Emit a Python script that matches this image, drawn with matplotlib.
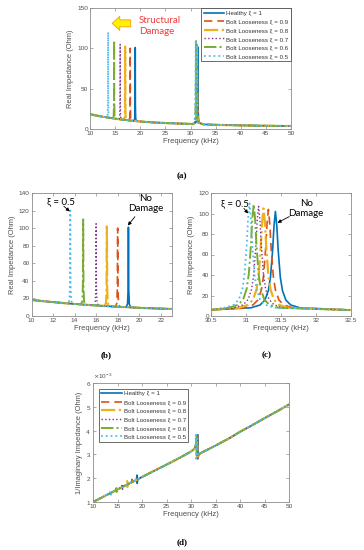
import numpy as np
import matplotlib
matplotlib.use("Agg")
import matplotlib.pyplot as plt
from matplotlib.ticker import ScalarFormatter

plt.rcParams['font.family'] = ['Liberation Sans', 'DejaVu Sans']

# ---- series ----
labels = ["Healthy ξ = 1", "Bolt Looseness ξ = 0.9", "Bolt Looseness ξ = 0.8",
          "Bolt Looseness ξ = 0.7", "Bolt Looseness ξ = 0.6", "Bolt Looseness ξ = 0.5"]
colors = ["#0072BD", "#D95319", "#EDB120", "#7E2F8E", "#77AC30", "#4DBEEE"]
styles = ["-", (0, (5, 3)), "-.", ":", "-.", ":"]
widths = [1.2, 1.2, 1.6, 1.0, 1.4, 1.3]

# ---- real impedance: shared baseline (kHz, Ohm) ----
base_f = [10, 11, 12, 13, 14, 15, 16, 17, 18, 19, 20, 21, 22, 23, 25, 27, 29, 30,
          34, 36, 40, 45, 50]
base_v = [18.3, 17.0, 15.8, 14.7, 13.7, 12.8, 12.0, 11.2, 10.5, 9.9, 9.3, 8.8, 8.4, 8.0,
          7.4, 6.9, 6.5, 6.3, 5.4, 5.0, 4.5, 4.0, 3.7]

# first resonance (narrow peaks), one list per series
p1_f = [
    [18.8, 18.92, 18.97, 19.0, 19.03, 19.08, 19.2],
    [17.8, 17.92, 17.97, 18.0, 18.03, 18.08, 18.2],
    [16.8, 16.92, 16.97, 17.0, 17.03, 17.08, 17.2],
    [15.8, 15.92, 15.97, 16.0, 16.03, 16.08, 16.2],
    [14.6, 14.72, 14.77, 14.8, 14.83, 14.88, 15.0],
    [13.4, 13.52, 13.57, 13.6, 13.63, 13.68, 13.8],
]
p1_v = [
    [10.2, 14.0, 30, 101, 30, 13.6, 9.9],
    [10.8, 14.5, 30, 100, 30, 14.2, 10.4],
    [11.5, 15.0, 31, 102, 31, 15.0, 11.1],
    [12.3, 16.0, 32, 105, 32, 15.8, 11.9],
    [13.3, 17.0, 34, 110, 34, 16.8, 12.8],
    [14.4, 18.0, 36, 120, 36, 17.8, 13.9],
]

# second resonance (30.5 - 32.5 kHz)
p2_f = [
    [30.5, 31.07, 31.20, 31.27, 31.32, 31.35, 31.38, 31.40, 31.42, 31.44, 31.46, 31.49, 31.52, 31.57, 31.64, 31.77, 32.5],
    [30.5, 30.97, 31.10, 31.17, 31.22, 31.25, 31.28, 31.30, 31.32, 31.34, 31.36, 31.39, 31.42, 31.47, 31.54, 31.67, 32.5],
    [30.5, 30.90, 31.03, 31.10, 31.15, 31.18, 31.21, 31.23, 31.25, 31.27, 31.29, 31.32, 31.35, 31.40, 31.47, 31.60, 32.5],
    [30.5, 30.83, 30.96, 31.03, 31.08, 31.11, 31.14, 31.16, 31.18, 31.20, 31.22, 31.25, 31.28, 31.33, 31.40, 31.53, 32.5],
    [30.5, 30.76, 30.89, 30.96, 31.01, 31.04, 31.07, 31.09, 31.11, 31.13, 31.15, 31.18, 31.21, 31.26, 31.33, 31.46, 32.5],
    [30.5, 30.70, 30.83, 30.90, 30.95, 30.98, 31.01, 31.03, 31.05, 31.07, 31.09, 31.12, 31.15, 31.20, 31.27, 31.40, 32.5],
]
p2_v = [
    [6.0, 8.0, 10.7, 15.5, 25.0, 38.0, 64.0, 88.0, 102, 88.0, 64.0, 38.0, 25.0, 15.5, 10.7, 8.0, 5.8],
    [6.0, 7.9, 10.8, 15.7, 25.4, 38.8, 65.2, 89.6, 104, 89.6, 65.2, 38.8, 25.4, 15.7, 10.8, 7.9, 5.8],
    [6.0, 8.0, 10.9, 15.9, 25.8, 39.5, 66.4, 91.3, 105, 91.3, 66.4, 39.5, 25.8, 15.9, 10.9, 8.0, 5.8],
    [6.0, 8.0, 10.9, 16.1, 26.2, 40.1, 67.6, 93.1, 107, 93.1, 67.6, 40.1, 26.2, 16.1, 10.9, 8.0, 5.8],
    [6.0, 8.1, 11.0, 16.3, 26.6, 40.8, 68.8, 94.8, 109, 94.8, 68.8, 40.8, 26.6, 16.3, 11.0, 8.1, 5.8],
    [6.0, 8.1, 11.1, 16.4, 26.8, 41.2, 69.4, 95.6, 110, 95.6, 69.4, 41.2, 26.8, 16.4, 11.1, 8.1, 5.8],
]

# ---- 1/imaginary impedance (x1e-3) ----
inv_base_f = [10, 12, 14, 16, 18, 20, 22, 25, 28, 30, 30.6, 31.8, 32.3, 33, 35, 38, 40, 42, 45, 48, 50]
inv_base_v = [1.00, 1.21, 1.42, 1.63, 1.84, 2.05, 2.26, 2.57, 2.89, 3.12, 3.22, 3.03, 3.09, 3.16,
              3.37, 3.70, 3.95, 4.17, 4.52, 4.86, 5.10]
inv1_f = [
    [18.85, 18.98, 19.02, 19.15],
    [17.85, 17.98, 18.02, 18.15],
    [16.85, 16.98, 17.02, 17.15],
    [15.85, 15.98, 16.02, 16.15],
    [14.65, 14.78, 14.82, 14.95],
    [13.45, 13.58, 13.62, 13.75],
]
inv1_v = [
    [1.93, 2.13, 1.78, 1.95],
    [1.83, 1.95, 1.75, 1.85],
    [1.73, 1.88, 1.63, 1.75],
    [1.62, 1.75, 1.53, 1.64],
    [1.49, 1.59, 1.42, 1.51],
    [1.37, 1.46, 1.30, 1.39],
]
inv2_f = [
    [31.07, 31.32, 31.40, 31.42, 31.43, 31.48, 31.62],
    [30.97, 31.22, 31.30, 31.32, 31.33, 31.38, 31.52],
    [30.90, 31.15, 31.23, 31.25, 31.26, 31.31, 31.45],
    [30.83, 31.08, 31.16, 31.18, 31.19, 31.24, 31.38],
    [30.76, 31.01, 31.09, 31.11, 31.12, 31.17, 31.31],
    [30.70, 30.95, 31.03, 31.05, 31.06, 31.11, 31.25],
]
inv2_v = [3.30, 3.42, 3.60, 3.82, 2.82, 2.90, 2.98]


def merge(bf, bv, parts):
    # baseline points that fall inside a resonance window are dropped
    f = []
    v = []
    for x, y in zip(bf, bv):
        if not any(min(pf) <= x <= max(pf) for pf, _ in parts):
            f.append(x)
            v.append(y)
    for pf, pv in parts:
        f += list(pf)
        v += list(pv)
    order = np.argsort(f)
    return np.array(f)[order], np.array(v)[order]


grey = "#4d4d4d"
tick_fs = 4.6
label_fs = 5.4
note_font = ['Lato', 'DejaVu Sans']


def style_axes(ax):
    for s in ax.spines.values():
        s.set_color("#8c8c8c")
        s.set_linewidth(0.6)
    ax.tick_params(direction="in", length=2, width=0.5, colors="#8c8c8c",
                   labelcolor=grey, labelsize=tick_fs, pad=1.5, top=True, right=True)
    ax.set_xlabel("Frequency (kHz)", fontsize=label_fs, color=grey, labelpad=1.5)


def style_legend(leg):
    leg.get_frame().set_edgecolor("#333333")
    leg.get_frame().set_linewidth(0.5)
    for t in leg.get_texts():
        t.set_color("#333333")


fig = plt.figure(figsize=(3.64, 5.5), dpi=100)
ax_a = fig.add_axes([90 / 364, 1 - 129 / 550, 201 / 364, 121 / 550])
ax_b = fig.add_axes([31.5 / 364, 1 - 316 / 550, 140 / 364, 123 / 550])
ax_c = fig.add_axes([211 / 364, 1 - 316 / 550, 140 / 364, 123 / 550])
ax_d = fig.add_axes([93 / 364, 1 - 502 / 550, 196 / 364, 119 / 550])

for i in range(6):
    f, v = merge(base_f, base_v, [(p1_f[i], p1_v[i]), (p2_f[i], p2_v[i])])
    for ax in (ax_a, ax_b, ax_c):
        ax.plot(f, v, color=colors[i], ls=styles[i], lw=widths[i], label=labels[i])
    fi, vi = merge(inv_base_f, inv_base_v, [(inv1_f[i], inv1_v[i]), (inv2_f[i], inv2_v)])
    ax_d.plot(fi, vi * 1e-3, color=colors[i], ls=styles[i], lw=widths[i], label=labels[i])

leg_kw = dict(fontsize=4.4, handlelength=3.4, labelspacing=0.55, handletextpad=0.3,
              borderpad=0.4, fancybox=False, framealpha=1)

# (a)
ax_a.set_xlim(10, 50)
ax_a.set_ylim(0, 150)
ax_a.set_xticks(np.arange(10, 51, 5))
ax_a.set_yticks([0, 50, 100, 150])
ax_a.set_ylabel("Real Impedance (Ohm)", fontsize=label_fs, color=grey, labelpad=2)
style_axes(ax_a)
style_legend(ax_a.legend(loc="upper right", borderaxespad=0, **leg_kw))
ax_a.annotate("", xy=(14.4, 131), xytext=(18.1, 131),
              arrowprops=dict(arrowstyle="simple,head_length=0.55,head_width=1.0,tail_width=0.5",
                              fc="#FFF200", ec="#F39C12", lw=0.6, mutation_scale=10,
                              shrinkA=0, shrinkB=0))
ax_a.text(19.7, 128, "Structural\nDamage", color="#EE3B3B", fontsize=7, va="center",
          ha="left", linespacing=1.25, family=note_font)

# (b)
ax_b.set_xlim(10, 23)
ax_b.set_ylim(0, 140)
ax_b.set_xticks(np.arange(10, 23, 2))
ax_b.set_yticks(np.arange(0, 141, 20))
ax_b.set_ylabel("Real Impedance (Ohm)", fontsize=label_fs, color=grey, labelpad=2)
style_axes(ax_b)
ax_b.text(12.7, 130, "ξ = 0.5", fontsize=7, ha="center", va="center", family=note_font)
ax_b.annotate("", xy=(13.55, 119), xytext=(13.0, 125),
              arrowprops=dict(arrowstyle="-|>", color="black", lw=0.6, mutation_scale=5,
                              shrinkA=0, shrinkB=0))
ax_b.text(20.6, 128, "No\nDamage", fontsize=7, ha="center", va="center", linespacing=1.15,
          family=note_font)
ax_b.annotate("", xy=(18.95, 103), xytext=(19.6, 113),
              arrowprops=dict(arrowstyle="-|>", color="black", lw=0.6, mutation_scale=5,
                              shrinkA=0, shrinkB=0))

# (c)
ax_c.set_xlim(30.5, 32.5)
ax_c.set_ylim(0, 120)
ax_c.set_xticks([30.5, 31, 31.5, 32, 32.5])
ax_c.set_xticklabels(["30.5", "31", "31.5", "32", "32.5"])
ax_c.set_yticks(np.arange(0, 121, 20))
ax_c.set_ylabel("Real Impedance (Ohm)", fontsize=label_fs, color=grey, labelpad=2)
style_axes(ax_c)
ax_c.text(30.84, 110, "ξ = 0.5", fontsize=7, ha="center", va="center", family=note_font)
ax_c.annotate("", xy=(31.03, 100), xytext=(30.97, 105),
              arrowprops=dict(arrowstyle="-|>", color="black", lw=0.6, mutation_scale=5,
                              shrinkA=0, shrinkB=0))
ax_c.text(31.86, 105, "No\nDamage", fontsize=7, ha="center", va="center", linespacing=1.15,
          family=note_font)
ax_c.annotate("", xy=(31.45, 91), xytext=(31.62, 97),
              arrowprops=dict(arrowstyle="-|>", color="black", lw=0.6, mutation_scale=5,
                              shrinkA=0, shrinkB=0))

# (d)
ax_d.set_xlim(10, 50)
ax_d.set_ylim(1e-3, 6e-3)
ax_d.set_xticks(np.arange(10, 51, 5))
ax_d.set_yticks(np.arange(1, 7) * 1e-3)
fmt = ScalarFormatter(useMathText=True)
fmt.set_powerlimits((-2, 2))
ax_d.yaxis.set_major_formatter(fmt)
ax_d.yaxis.get_offset_text().set_fontsize(4.6)
ax_d.yaxis.get_offset_text().set_color(grey)
ax_d.set_ylabel("1/Imaginary Impedance (Ohm)", fontsize=label_fs, color=grey, labelpad=2)
style_axes(ax_d)
style_legend(ax_d.legend(loc="upper left", borderaxespad=0.9, **leg_kw))

# captions
cap = dict(fontsize=6.5, fontweight="bold", family="Liberation Serif", ha="center", va="center")
fig.text(182 / 364, 1 - 176 / 550, "(a)", **cap)
fig.text(106 / 364, 1 - 355 / 550, "(b)", **cap)
fig.text(267 / 364, 1 - 355 / 550, "(c)", **cap)
fig.text(182 / 364, 1 - 542 / 550, "(d)", **cap)

fig.savefig("out.png", dpi=100)
